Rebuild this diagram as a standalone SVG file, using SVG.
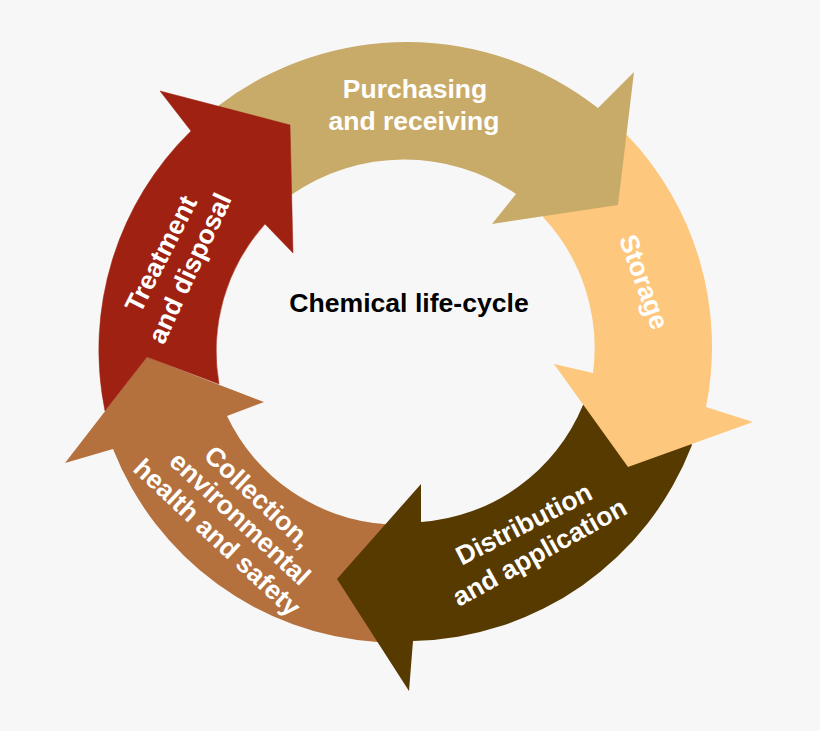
<svg xmlns="http://www.w3.org/2000/svg" width="820" height="731" viewBox="0 0 820 731">
<style>
.l{font-family:"Liberation Sans",Arial,sans-serif;font-weight:700;font-size:26.5px;fill:#fff;text-anchor:middle}
.c{font-family:"Liberation Sans",Arial,sans-serif;font-weight:700;font-size:26.6px;fill:#000;text-anchor:middle}
</style>
<rect width="820" height="731" fill="#f7f7f7"/>
<g id="connectors">
<path id="collection-arrow" fill="#b4703d" d="M377 642A306 306 0 0 1 113 449L65 463L147 357L264 402L227 416A190 190 0 0 0 384 524L389 525L342 579L381 640Z"/>
<path id="distribution-arrow" fill="#573a00" d="M692 445A306 306 0 0 1 413 641L409 691L337 579L421 484L421 522A190 190 0 0 0 583 405L588 403L630 462L690 441Z"/>
<path id="storage-arrow" fill="#fec77e" d="M627 135A306 306 0 0 1 706 407L753 422L628 467L554 364L593 373A192 192 0 0 0 543 217L545 212L612 200L622 136Z"/>
<path id="purchasing-arrow" fill="#c9ab69" d="M218 106A310 310 0 0 1 598 108L634 72L618 205L492 224L516 194A198 198 0 0 0 291 195L286 194L285 129L220 110Z"/>
<path id="treatment-arrow" fill="#9f2111" stroke="#9f2111" stroke-width=".5" d="M105 411A306 306 0 0 1 191 131L160 91L290 125L293 253L265 224A190 190 0 0 0 219 384L147 357Z"/>
</g>
<g id="purchasing"><text class="l" x="415" y="98">Purchasing</text><text class="l" x="414" y="130">and receiving</text></g>
<g id="storage"><text class="l" transform="translate(635.5,285) rotate(70)">Storage</text></g>
<g id="distribution"><text class="l" transform="translate(528,532) rotate(-27)">Distribution</text><text class="l" transform="translate(544,560) rotate(-29)">and application</text></g>
<g id="collection"><text class="l" transform="translate(252,503.5) rotate(43)">Collection,</text><text class="l" transform="translate(234,525) rotate(43)">environmental</text><text class="l" transform="translate(211,544) rotate(43)">health and safety</text></g>
<g id="treatment"><text class="l" transform="translate(169,258) rotate(-63)">Treatment</text><text class="l" transform="translate(198,272) rotate(-65)">and disposal</text></g>
<g id="center"><text class="c" x="409" y="312">Chemical life-cycle</text></g>
</svg>
